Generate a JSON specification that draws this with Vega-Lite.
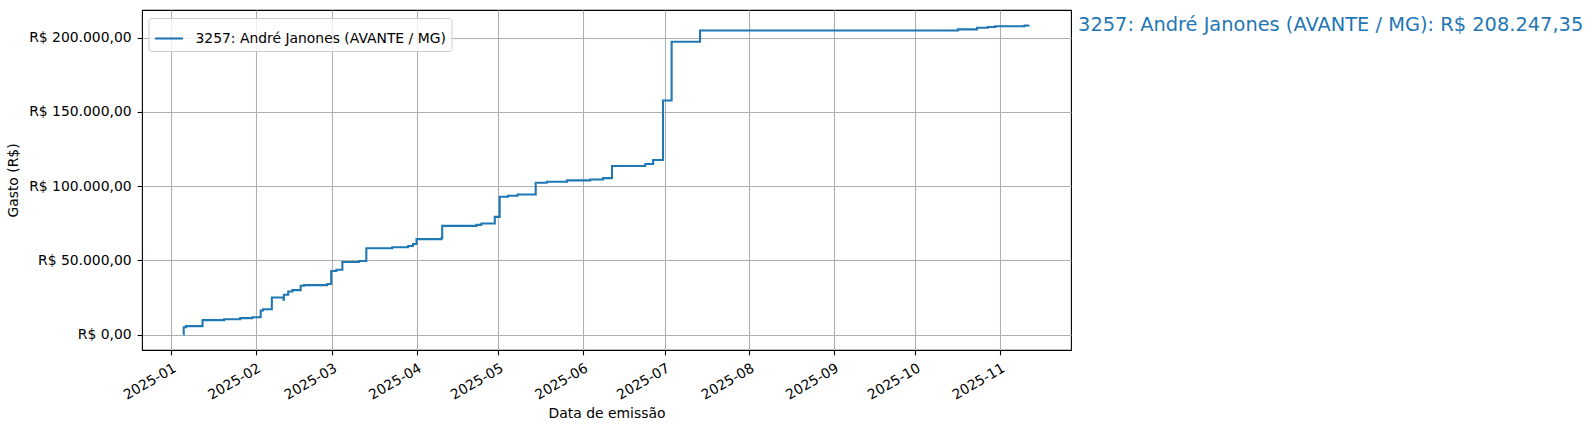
{
  "$schema": "https://vega.github.io/schema/vega-lite/v6.json",
  "autosize": {"type": "none"},
  "padding": {"left": 142, "top": 10, "right": 525, "bottom": 80},
  "width": 929,
  "height": 340,
  "background": "white",
  "datasets": {
    "gastos": [
      {"date": "2025-01-05T12:00", "value": 0, "serie": "3257: André Janones (AVANTE / MG)"},
      {"date": "2025-01-05T14:00", "value": 4950, "serie": "3257: André Janones (AVANTE / MG)"},
      {"date": "2025-01-06T10:00", "value": 5650, "serie": "3257: André Janones (AVANTE / MG)"},
      {"date": "2025-01-12T12:00", "value": 9700, "serie": "3257: André Janones (AVANTE / MG)"},
      {"date": "2025-01-20T10:00", "value": 10350, "serie": "3257: André Janones (AVANTE / MG)"},
      {"date": "2025-01-26T07:00", "value": 11050, "serie": "3257: André Janones (AVANTE / MG)"},
      {"date": "2025-01-30T19:00", "value": 11700, "serie": "3257: André Janones (AVANTE / MG)"},
      {"date": "2025-02-02T20:00", "value": 16200, "serie": "3257: André Janones (AVANTE / MG)"},
      {"date": "2025-02-03T17:00", "value": 17100, "serie": "3257: André Janones (AVANTE / MG)"},
      {"date": "2025-02-06T22:00", "value": 25000, "serie": "3257: André Janones (AVANTE / MG)"},
      {"date": "2025-02-11T05:00", "value": 23400, "serie": "3257: André Janones (AVANTE / MG)"},
      {"date": "2025-02-11T08:00", "value": 26800, "serie": "3257: André Janones (AVANTE / MG)"},
      {"date": "2025-02-12T22:00", "value": 29050, "serie": "3257: André Janones (AVANTE / MG)"},
      {"date": "2025-02-14T11:00", "value": 29950, "serie": "3257: André Janones (AVANTE / MG)"},
      {"date": "2025-02-17T12:00", "value": 32900, "serie": "3257: André Janones (AVANTE / MG)"},
      {"date": "2025-02-18T17:00", "value": 33300, "serie": "3257: André Janones (AVANTE / MG)"},
      {"date": "2025-02-27T06:00", "value": 34000, "serie": "3257: André Janones (AVANTE / MG)"},
      {"date": "2025-02-28T17:00", "value": 42800, "serie": "3257: André Janones (AVANTE / MG)"},
      {"date": "2025-03-02T14:00", "value": 43700, "serie": "3257: André Janones (AVANTE / MG)"},
      {"date": "2025-03-04T19:00", "value": 48900, "serie": "3257: André Janones (AVANTE / MG)"},
      {"date": "2025-03-10T22:00", "value": 49550, "serie": "3257: André Janones (AVANTE / MG)"},
      {"date": "2025-03-13T14:00", "value": 58100, "serie": "3257: André Janones (AVANTE / MG)"},
      {"date": "2025-03-23T02:00", "value": 58800, "serie": "3257: André Janones (AVANTE / MG)"},
      {"date": "2025-03-28T22:00", "value": 59700, "serie": "3257: André Janones (AVANTE / MG)"},
      {"date": "2025-03-30T17:00", "value": 61000, "serie": "3257: André Janones (AVANTE / MG)"},
      {"date": "2025-04-01T00:00", "value": 64300, "serie": "3257: André Janones (AVANTE / MG)"},
      {"date": "2025-04-10T05:00", "value": 65300, "serie": "3257: André Janones (AVANTE / MG)"},
      {"date": "2025-04-10T10:00", "value": 73200, "serie": "3257: André Janones (AVANTE / MG)"},
      {"date": "2025-04-23T00:00", "value": 73900, "serie": "3257: André Janones (AVANTE / MG)"},
      {"date": "2025-04-24T19:00", "value": 74800, "serie": "3257: André Janones (AVANTE / MG)"},
      {"date": "2025-04-29T17:00", "value": 79300, "serie": "3257: André Janones (AVANTE / MG)"},
      {"date": "2025-05-01T12:00", "value": 92800, "serie": "3257: André Janones (AVANTE / MG)"},
      {"date": "2025-05-04T14:00", "value": 93500, "serie": "3257: André Janones (AVANTE / MG)"},
      {"date": "2025-05-08T02:00", "value": 94400, "serie": "3257: André Janones (AVANTE / MG)"},
      {"date": "2025-05-14T17:00", "value": 102250, "serie": "3257: André Janones (AVANTE / MG)"},
      {"date": "2025-05-18T19:00", "value": 102950, "serie": "3257: André Janones (AVANTE / MG)"},
      {"date": "2025-05-26T05:00", "value": 103850, "serie": "3257: André Janones (AVANTE / MG)"},
      {"date": "2025-06-03T17:00", "value": 104500, "serie": "3257: André Janones (AVANTE / MG)"},
      {"date": "2025-06-08T10:00", "value": 105400, "serie": "3257: André Janones (AVANTE / MG)"},
      {"date": "2025-06-11T17:00", "value": 113500, "serie": "3257: André Janones (AVANTE / MG)"},
      {"date": "2025-06-23T22:00", "value": 114900, "serie": "3257: André Janones (AVANTE / MG)"},
      {"date": "2025-06-26T19:00", "value": 117550, "serie": "3257: André Janones (AVANTE / MG)"},
      {"date": "2025-06-30T10:00", "value": 157650, "serie": "3257: André Janones (AVANTE / MG)"},
      {"date": "2025-07-03T14:00", "value": 197300, "serie": "3257: André Janones (AVANTE / MG)"},
      {"date": "2025-07-14T00:00", "value": 204850, "serie": "3257: André Janones (AVANTE / MG)"},
      {"date": "2025-10-16T14:00", "value": 205600, "serie": "3257: André Janones (AVANTE / MG)"},
      {"date": "2025-10-23T14:00", "value": 206700, "serie": "3257: André Janones (AVANTE / MG)"},
      {"date": "2025-10-27T14:00", "value": 207150, "serie": "3257: André Janones (AVANTE / MG)"},
      {"date": "2025-10-30T07:00", "value": 207750, "serie": "3257: André Janones (AVANTE / MG)"},
      {"date": "2025-11-10T02:00", "value": 208200, "serie": "3257: André Janones (AVANTE / MG)"},
      {"date": "2025-11-11T17:00", "value": 208247.35, "serie": "3257: André Janones (AVANTE / MG)"}
    ],
    "rotulo": [
      {"date": "2025-11-11T17:00", "value": 208247.35, "label": "3257: André Janones (AVANTE / MG): R$ 208.247,35"}
    ]
  },
  "layer": [
    {
      "data": {"name": "gastos"},
      "mark": {"type": "line", "interpolate": "step-after", "strokeWidth": 2.08, "clip": true},
      "encoding": {
        "x": {
          "field": "date",
          "type": "temporal",
          "title": "Data de emissão",
          "scale": {"domain": [{"year": 2024, "month": 12, "date": 21, "hours": 7}, {"year": 2025, "month": 11, "date": 27, "hours": 2}], "nice": false},
          "axis": {
            "format": "%Y-%m",
            "values": [
              {"year": 2025, "month": 1, "date": 1},
              {"year": 2025, "month": 2, "date": 1},
              {"year": 2025, "month": 3, "date": 1},
              {"year": 2025, "month": 4, "date": 1},
              {"year": 2025, "month": 5, "date": 1},
              {"year": 2025, "month": 6, "date": 1},
              {"year": 2025, "month": 7, "date": 1},
              {"year": 2025, "month": 8, "date": 1},
              {"year": 2025, "month": 9, "date": 1},
              {"year": 2025, "month": 10, "date": 1},
              {"year": 2025, "month": 11, "date": 1}
            ],
            "labelAngle": -30,
            "labelAlign": "right",
            "labelBaseline": "top",
            "labelPadding": 6,
            "labelDx": -8,
            "labelDy": -3,
            "titlePadding": 5
          }
        },
        "y": {
          "field": "value",
          "type": "quantitative",
          "title": "Gasto (R$)",
          "scale": {"domain": [-10412, 218660], "nice": false, "zero": false},
          "axis": {
            "values": [0, 50000, 100000, 150000, 200000],
            "format": "$,.2f",
            "labelPadding": 6,
            "titlePadding": 8
          }
        },
        "color": {
          "field": "serie",
          "type": "nominal",
          "scale": {"range": ["#1f77b4"]},
          "legend": {
            "title": null,
            "orient": "none",
            "legendX": 6.5,
            "legendY": 8,
            "symbolType": "stroke",
            "symbolSize": 784,
            "symbolStrokeWidth": 2.08,
            "labelOffset": 11,
            "labelFontSize": 13.9,
            "labelColor": "black",
            "labelLimit": 500,
            "padding": 5,
            "fillColor": "rgba(255,255,255,0.8)",
            "strokeColor": "#cccccc",
            "cornerRadius": 3
          }
        }
      }
    },
    {
      "data": {"name": "rotulo"},
      "mark": {"type": "text", "align": "left", "baseline": "middle", "dx": 49, "dy": 0, "fontSize": 19.4, "color": "#1f77b4", "clip": false},
      "encoding": {
        "x": {"field": "date", "type": "temporal"},
        "y": {"field": "value", "type": "quantitative"},
        "text": {"field": "label"}
      }
    }
  ],
  "config": {
    "font": "DejaVu Sans",
    "locale": {
      "number": {"decimal": ",", "thousands": ".", "grouping": [3], "currency": ["R$ ", ""]}
    },
    "view": {"stroke": "black", "strokeWidth": 1.1},
    "axis": {
      "domain": false,
      "grid": true,
      "gridColor": "#b0b0b0",
      "gridWidth": 1.1,
      "tickColor": "black",
      "tickSize": 4.9,
      "tickWidth": 1.1,
      "labelFontSize": 13.9,
      "labelColor": "black",
      "titleFontSize": 13.9,
      "titleFontWeight": "normal",
      "titleColor": "black",
      "labelFont": "DejaVu Sans",
      "titleFont": "DejaVu Sans"
    },
    "legend": {"labelFont": "DejaVu Sans"},
    "text": {"font": "DejaVu Sans"}
  }
}
